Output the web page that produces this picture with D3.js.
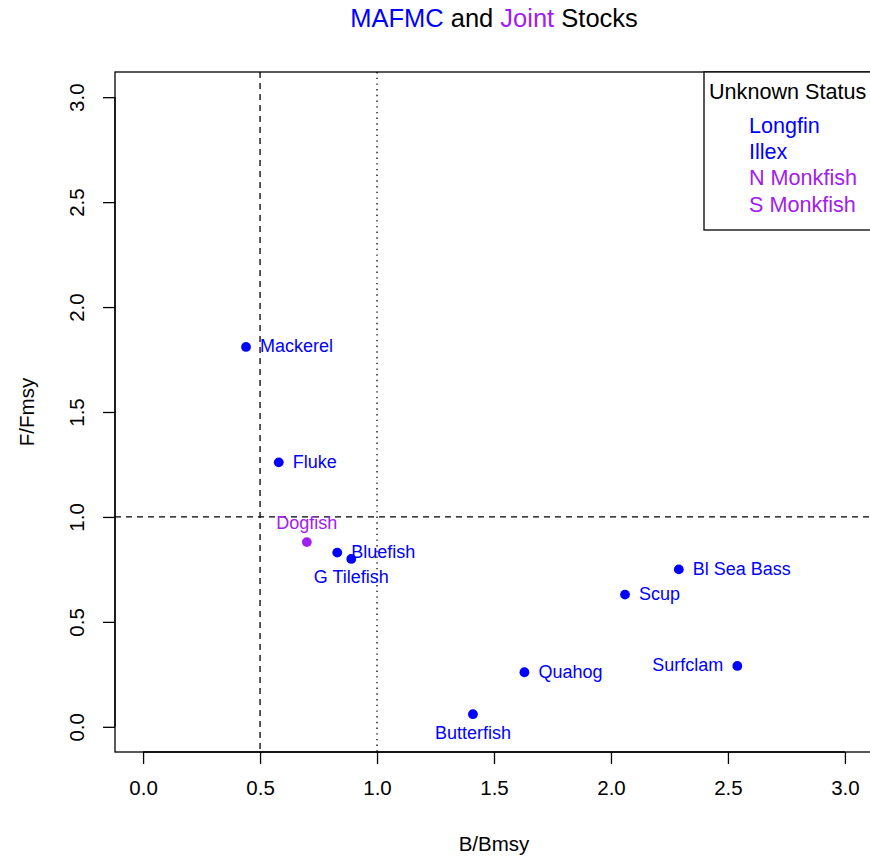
<!DOCTYPE html>
<html>
<head>
<meta charset="utf-8">
<script src="https://cdn.jsdelivr.net/npm/d3@7"></script>
<style>
  html, body { margin: 0; padding: 0; background: #fff; }
  svg { display: block; font-family: "Liberation Sans", Arial, sans-serif; }
</style>
</head>
<body>
<svg id="chart" width="870" height="858"></svg>
<script>
// Stock status: biomass ratio vs fishing mortality ratio
const stocks = ["Mackerel", "Fluke", "Dogfish", "Bluefish", "G Tilefish",
                "Bl Sea Bass", "Scup", "Quahog", "Surfclam", "Butterfish"];
const bBmsy  = [0.44, 0.58, 0.70, 0.83, 0.89, 2.29, 2.06, 1.63, 2.54, 1.41];
const fFmsy  = [1.81, 1.26, 0.88, 0.83, 0.80, 0.75, 0.63, 0.26, 0.29, 0.06];
const council = ["MAFMC", "MAFMC", "Joint", "MAFMC", "MAFMC",
                 "MAFMC", "MAFMC", "MAFMC", "MAFMC", "MAFMC"];

// Stocks with no status estimate, listed in the legend
const unknownStocks  = ["Longfin", "Illex", "N Monkfish", "S Monkfish"];
const unknownCouncil = ["MAFMC", "MAFMC", "Joint", "Joint"];

const xTicks = [0, 0.5, 1, 1.5, 2, 2.5, 3];
const yTicks = [0, 0.5, 1, 1.5, 2, 2.5, 3];

// Reference lines
const bThreshold = 0.5, bTarget = 1.0, fThreshold = 1.0;

const colour = { MAFMC: "#0000FF", Joint: "#A020F0" };

// Which side of its point each label sits on
const labelSide = {
  "Mackerel": "right", "Fluke": "right", "Dogfish": "above", "Bluefish": "right",
  "G Tilefish": "below", "Bl Sea Bass": "right", "Scup": "right", "Quahog": "right",
  "Surfclam": "left", "Butterfish": "below"
};

const svg = d3.select("#chart");

// Plot region (box extends 4% beyond the 0–3 range, as in base graphics)
const box = { left: 115, right: 873, top: 72, bottom: 752 };
const x = d3.scaleLinear().domain([0 - 0.12, 3 + 0.12]).range([box.left, box.right]);
const y = d3.scaleLinear().domain([0 - 0.12, 3 + 0.12]).range([box.bottom, box.top]);

const ink = "#000";
const lw = 1.3;

// Clip to plot box
svg.append("defs").append("clipPath").attr("id", "plotClip")
  .append("rect")
  .attr("x", box.left).attr("y", box.top)
  .attr("width", box.right - box.left).attr("height", box.bottom - box.top);

const plot = svg.append("g").attr("clip-path", "url(#plotClip)");

// Reference lines
plot.append("line")
  .attr("x1", x(bThreshold)).attr("x2", x(bThreshold))
  .attr("y1", box.top).attr("y2", box.bottom)
  .attr("stroke", ink).attr("stroke-width", lw).attr("stroke-dasharray", "6,5");
plot.append("line")
  .attr("x1", x(bTarget)).attr("x2", x(bTarget))
  .attr("y1", box.top).attr("y2", box.bottom)
  .attr("stroke", ink).attr("stroke-width", lw).attr("stroke-dasharray", "1.4,4.3");
plot.append("line")
  .attr("x1", box.left).attr("x2", box.right)
  .attr("y1", y(fThreshold)).attr("y2", y(fThreshold))
  .attr("stroke", ink).attr("stroke-width", lw).attr("stroke-dasharray", "6,5");

// Points
const data = stocks.map((s, i) => ({ name: s, b: bBmsy[i], f: fFmsy[i], c: council[i] }));

plot.selectAll("circle.pt").data(data).join("circle")
  .attr("class", "pt")
  .attr("cx", d => x(d.b)).attr("cy", d => y(d.f))
  .attr("r", 4.9)
  .attr("fill", d => colour[d.c]);

// Labels
const labelSize = 18;
plot.selectAll("text.lbl").data(data).join("text")
  .attr("class", "lbl")
  .attr("font-size", labelSize)
  .attr("fill", d => colour[d.c])
  .each(function(d) {
    const t = d3.select(this);
    const px = x(d.b), py = y(d.f);
    const side = labelSide[d.name];
    if (side === "right") {
      t.attr("x", px + 14).attr("y", py + 5.5).attr("text-anchor", "start");
    } else if (side === "left") {
      t.attr("x", px - 14).attr("y", py + 5.5).attr("text-anchor", "end");
    } else if (side === "above") {
      t.attr("x", px).attr("y", py - 13).attr("text-anchor", "middle");
    } else {
      t.attr("x", px).attr("y", py + 24.5).attr("text-anchor", "middle");
    }
  })
  .text(d => d.name);

// Plot frame
svg.append("rect")
  .attr("x", box.left).attr("y", box.top)
  .attr("width", box.right - box.left).attr("height", box.bottom - box.top)
  .attr("fill", "none").attr("stroke", ink).attr("stroke-width", lw);

// Axes
const fmt = d3.format(".1f");
const tickFont = 20.5;

const xAxis = svg.append("g")
  .attr("transform", `translate(0,${box.bottom})`)
  .call(d3.axisBottom(x).tickValues(xTicks).tickFormat(fmt).tickSize(12).tickPadding(16));
const yAxis = svg.append("g")
  .attr("transform", `translate(${box.left},0)`)
  .call(d3.axisLeft(y).tickValues(yTicks).tickFormat(fmt).tickSize(12).tickPadding(0));

[xAxis, yAxis].forEach(ax => {
  ax.select(".domain").remove();
  ax.selectAll(".tick line").attr("stroke", ink).attr("stroke-width", lw);
  ax.selectAll(".tick text")
    .attr("font-family", "Liberation Sans, Arial, sans-serif")
    .attr("font-size", tickFont).attr("fill", ink);
});
// Axis line spanning the tick range (base-graphics style)
xAxis.append("line")
  .attr("x1", x(xTicks[0])).attr("x2", x(xTicks[xTicks.length - 1]))
  .attr("stroke", ink).attr("stroke-width", lw);
yAxis.append("line")
  .attr("y1", y(yTicks[0])).attr("y2", y(yTicks[yTicks.length - 1]))
  .attr("stroke", ink).attr("stroke-width", lw);

xAxis.selectAll(".tick text").attr("dy", "0.71em");
// Rotated y tick labels, parallel to the axis
yAxis.selectAll(".tick text")
  .attr("text-anchor", "middle")
  .attr("x", null).attr("dy", null)
  .attr("transform", "translate(-31,0) rotate(-90)")
  .attr("y", 0);

// Axis titles
svg.append("text")
  .attr("x", (box.left + box.right) / 2).attr("y", 851)
  .attr("text-anchor", "middle").attr("font-size", 20.5).attr("fill", ink)
  .text("B/Bmsy");
svg.append("text")
  .attr("transform", `translate(34,${(box.top + box.bottom) / 2}) rotate(-90)`)
  .attr("text-anchor", "middle").attr("font-size", 20.5).attr("fill", ink)
  .text("F/Fmsy");

// Title
const title = svg.append("text")
  .attr("x", (box.left + box.right) / 2).attr("y", 27)
  .attr("text-anchor", "middle").attr("font-size", 25.5).attr("fill", ink);
title.append("tspan").attr("fill", colour.MAFMC).text("MAFMC");
title.append("tspan").text(" and ");
title.append("tspan").attr("fill", colour.Joint).text("Joint");
title.append("tspan").text(" Stocks");

// Legend for stocks of unknown status
const legendFont = 21.6;
const legend = svg.append("g");
legend.append("rect")
  .attr("x", 704).attr("y", box.top)
  .attr("width", box.right - 704).attr("height", 230 - box.top)
  .attr("fill", "#fff").attr("stroke", ink).attr("stroke-width", lw);
legend.append("text")
  .attr("x", 709).attr("y", 98.5)
  .attr("font-size", legendFont).attr("fill", ink)
  .text("Unknown Status");
legend.selectAll("text.item").data(unknownStocks).join("text")
  .attr("class", "item")
  .attr("x", 749)
  .attr("y", (d, i) => 132.8 + i * 26.3)
  .attr("font-size", legendFont)
  .attr("fill", (d, i) => colour[unknownCouncil[i]])
  .text(d => d);
</script>
</body>
</html>
